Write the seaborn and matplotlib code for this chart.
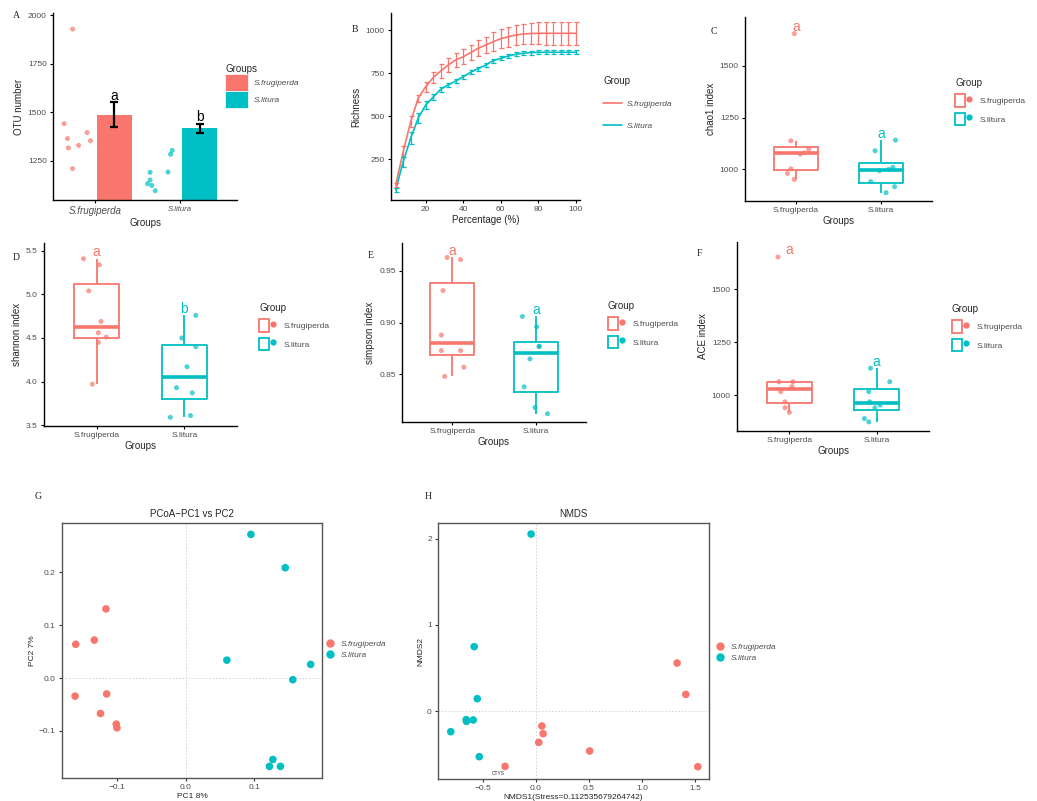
import matplotlib
matplotlib.use("Agg")
import matplotlib.pyplot as plt
from matplotlib.patches import Patch
from matplotlib.lines import Line2D
from matplotlib.legend_handler import HandlerTuple
from matplotlib.ticker import FormatStrFormatter, FuncFormatter
import pandas as pd
import seaborn as sns

W, H = 1037, 801
RED = "#F8766D"
CYAN = "#00BFC4"
GROUPS = ["S.frugiperda", "S.litura"]
PALETTE = dict(zip(GROUPS, [RED, CYAN]))

# A: OTU number
OTU_FRU = [1441, 1364, 1316, 1209, 1929, 1329, 1395, 1353]
OTU_LIT = [1131, 1190, 1150, 1122, 1095, 1191, 1283, 1303]
OTU_BAR = [1487, 1417]
OTU_ERR = [65, 23]
OTU_LETTERS = ["a", "b"]

# B: rarefaction
PCT = [4, 8, 12, 16, 20, 24, 28, 32, 36, 40, 44, 48, 52,
       56, 60, 64, 68, 72, 76, 80, 84, 88, 92, 96, 100]
RICH_FRU = [101, 294, 468, 604, 671, 724, 762, 797, 826, 845, 869, 894, 913,
            932, 950, 961, 971, 977, 980, 981, 981, 981, 981, 981, 981]
RICH_FRU_SD = [10, 31, 31, 21, 29, 34, 39, 39, 43, 43, 45, 46, 48,
               55, 55, 58, 58, 60, 61, 64, 66, 66, 66, 66, 66]
RICH_LIT = [72, 236, 372, 488, 565, 610, 656, 681, 704, 729, 755, 776, 797,
            822, 836, 849, 859, 865, 869, 871, 871, 871, 871, 871, 871]
RICH_LIT_SD = [10, 29, 34, 29, 23, 19, 15, 12, 12, 12, 12, 12, 12,
               12, 12, 12, 12, 12, 12, 12, 12, 12, 12, 12, 12]

# C-F: alpha diversity
CHAO_FRU = [1654, 1138, 1098, 1074, 1080, 1003, 981, 952]
CHAO_LIT = [1090, 1141, 941, 888, 917, 994, 1000, 1010]
SHAN_FRU = [5.41, 5.34, 5.04, 4.69, 4.56, 4.51, 4.45, 3.97]
SHAN_LIT = [4.50, 4.76, 4.40, 4.17, 3.93, 3.87, 3.59, 3.61]
SIMP_FRU = [0.963, 0.961, 0.931, 0.888, 0.873, 0.873, 0.857, 0.848]
SIMP_LIT = [0.906, 0.896, 0.877, 0.877, 0.865, 0.838, 0.818, 0.812]
ACE_FRU = [1653, 1063, 1063, 1040, 1016, 968, 940, 918]
ACE_LIT = [1127, 1063, 1016, 968, 953, 940, 889, 873]
CHAO_LETTERS = ["a", "a"]
SHAN_LETTERS = ["a", "b"]
SIMP_LETTERS = ["a", "a"]
ACE_LETTERS = ["a", "a"]

# G: PCoA
PC1_FRU = [-0.116, -0.133, -0.160, -0.161, -0.115, -0.124, -0.101, -0.100]
PC2_FRU = [0.131, 0.072, 0.064, -0.034, -0.030, -0.067, -0.087, -0.094]
PC1_LIT = [0.095, 0.145, 0.060, 0.182, 0.156, 0.127, 0.122, 0.138]
PC2_LIT = [0.272, 0.209, 0.034, 0.026, -0.003, -0.154, -0.167, -0.167]

# H: NMDS
NMDS1_FRU = [0.057, 0.069, 0.028, 0.506, -0.289, 1.328, 1.410, 1.523]
NMDS2_FRU = [-0.174, -0.263, -0.364, -0.464, -0.642, 0.557, 0.193, -0.646]
NMDS1_LIT = [-0.044, -0.579, -0.550, -0.654, -0.651, -0.588, -0.799, -0.531]
NMDS2_LIT = [2.054, 0.747, 0.143, -0.100, -0.120, -0.104, -0.240, -0.530]

# jitter offsets (layout only)
JIT_A_FRU = [-0.36, -0.32, -0.31, -0.26, -0.26, -0.19, -0.09, -0.05]
JIT_A_LIT = [-0.38, -0.35, -0.35, -0.33, -0.29, -0.14, -0.11, -0.09]
JIT_C = ([-0.02, -0.06, 0.15, 0.05, 0.10, -0.06, -0.10, -0.02],
         [-0.07, 0.17, -0.12, 0.06, 0.16, -0.02, 0.09, 0.14])
JIT_D = ([-0.15, 0.03, -0.09, 0.05, 0.02, 0.11, 0.02, -0.05],
         [-0.03, 0.13, 0.13, 0.03, -0.09, 0.09, -0.16, 0.07])
JIT_E = ([-0.06, 0.10, -0.11, -0.13, -0.13, 0.10, 0.14, -0.09],
         [-0.16, 0.01, 0.04, 0.04, -0.07, -0.14, -0.01, 0.14])
JIT_F = ([-0.13, -0.12, 0.04, 0.03, -0.10, -0.05, -0.05, 0.00],
         [-0.07, 0.15, -0.09, -0.08, 0.04, -0.02, -0.14, -0.09])

TICK_GREY = "#4D4D4D"

sns.set_style("ticks")
plt.rcParams["font.family"] = ["Liberation Sans", "DejaVu Sans"]

fig = plt.figure(figsize=(W / 100, H / 100), dpi=100)


def px_axes(l, t, r, b):
    return fig.add_axes([l / W, 1 - b / H, (r - l) / W, (b - t) / H])


def minus_fmt(fmt):
    return FuncFormatter(lambda v, p: (fmt % v).replace("-", "\u2212"))


def style_classic(ax):
    sns.despine(ax=ax)
    for side in ["left", "bottom"]:
        ax.spines[side].set_color("black")
        ax.spines[side].set_linewidth(1.0)
    ax.tick_params(direction="out", length=2.5, width=0.8, colors="black",
                   labelsize=6, labelcolor=TICK_GREY, pad=2)


def style_frame(ax):
    for side in ax.spines:
        ax.spines[side].set_visible(True)
        ax.spines[side].set_color("#555555")
        ax.spines[side].set_linewidth(1.0)
    ax.tick_params(direction="out", length=2.5, width=0.8, colors="#333333",
                   labelsize=6, labelcolor=TICK_GREY, pad=2)
    ax.axhline(0, color="#d0d0d0", lw=0.6, ls=(0, (2, 2)), zorder=0)
    ax.axvline(0, color="#d0d0d0", lw=0.6, ls=(0, (2, 2)), zorder=0)


def legend_at(ax, handles, labels, x, y, **kw):
    leg = ax.legend(handles, labels, loc="upper left",
                    bbox_to_anchor=(x / W, 1 - y / H),
                    bbox_transform=fig.transFigure, frameon=False,
                    borderaxespad=0, borderpad=0, **kw)
    return leg


def panel_tag(text, x, y):
    fig.text(x / W, 1 - y / H, text, family="Liberation Serif", fontsize=7,
             ha="left", va="center", color="#222222")


# ---------------- A ----------------
ax = px_axes(53, 13, 237, 200)
df_a = pd.DataFrame({"group": GROUPS, "otu": OTU_BAR})
sns.barplot(data=df_a, x="group", y="otu", hue="group", palette=PALETTE,
            width=0.41, saturation=1, errorbar=None, legend=False, ax=ax)
for p in ax.patches:
    p.set_x(p.get_x() + 0.23)
    p.set_edgecolor("none")
bar_x = [i + 0.23 for i in range(len(GROUPS))]
ax.errorbar(bar_x, OTU_BAR, yerr=OTU_ERR, fmt="none", ecolor="black",
            elinewidth=1.6, capsize=3.2, capthick=1.6, zorder=5)
pts_a = pd.DataFrame({
    "group": [GROUPS[0]] * len(OTU_FRU) + [GROUPS[1]] * len(OTU_LIT),
    "otu": OTU_FRU + OTU_LIT,
    "xpos": [j for j in JIT_A_FRU] + [1 + j for j in JIT_A_LIT],
})
sns.scatterplot(data=pts_a, x="xpos", y="otu", hue="group", palette=PALETTE,
                s=13, alpha=0.7, edgecolor="none", legend=False, ax=ax)
ylim = (1047, 2012)
for xb, yb, e, lab in zip(bar_x, OTU_BAR, OTU_ERR, OTU_LETTERS):
    ax.text(xb, yb + e + 0.035 * (ylim[1] - ylim[0]), lab, ha="center",
            va="center", fontsize=10, color="black")
ax.set_xlim(-0.49, 1.67)
ax.set_ylim(*ylim)
ax.set_yticks([1250, 1500, 1750, 2000])
ax.set_xticks([0, 1])
ax.set_xticklabels(GROUPS)
style_classic(ax)
for t, fs in zip(ax.get_xticklabels(), [7, 5.6]):
    t.set_fontstyle("italic")
    t.set_fontsize(fs)
ax.set_xlabel("Groups", fontsize=7, labelpad=1)
ax.set_ylabel("OTU number", fontsize=7, labelpad=3)
h_a = [Patch(facecolor=c, edgecolor="white", lw=0.5) for c in [RED, CYAN]]
leg = legend_at(ax, h_a, GROUPS, 225, 64, title="Groups", fontsize=6,
                title_fontsize=7, handlelength=2.8, handleheight=2.75,
                labelspacing=0, handletextpad=0.7, alignment="left")
for t in leg.get_texts():
    t.set_fontstyle("italic")
    t.set_color(TICK_GREY)
panel_tag("A", 13, 15)

# ---------------- B ----------------
ax = px_axes(391, 13, 580, 200)
df_b = pd.DataFrame({
    "pct": PCT + PCT,
    "rich": RICH_FRU + RICH_LIT,
    "sd": RICH_FRU_SD + RICH_LIT_SD,
    "group": [GROUPS[0]] * len(PCT) + [GROUPS[1]] * len(PCT),
})
sns.lineplot(data=df_b, x="pct", y="rich", hue="group", palette=PALETTE,
             errorbar=None, lw=1.2, legend=False, ax=ax)
for g, sub in df_b.groupby("group"):
    ax.errorbar(sub["pct"], sub["rich"], yerr=sub["sd"], fmt="none",
                ecolor=PALETTE[g], elinewidth=0.9, capsize=1.8, capthick=0.9)
ax.set_xlim(1.5, 102.3)
ax.set_ylim(13, 1099)
ax.set_xticks([20, 40, 60, 80, 100])
ax.set_yticks([250, 500, 750, 1000])
style_classic(ax)
ax.set_xlabel("Percentage (%)", fontsize=7, labelpad=1)
ax.set_ylabel("Richness", fontsize=7, labelpad=3)
h_b = [Line2D([], [], color=c, lw=1.2) for c in [RED, CYAN]]
leg = legend_at(ax, h_b, GROUPS, 603, 76, title="Group", fontsize=6,
                title_fontsize=7, handlelength=2.3, labelspacing=1.75,
                handletextpad=0.6, alignment="left")
for t in leg.get_texts():
    t.set_fontstyle("italic")
    t.set_color(TICK_GREY)
leg._legend_box.sep = 10
panel_tag("B", 352, 30)


# ---------------- C-F ----------------
def box_panel(box, fru, lit, jit, letters, ylabel, ylim, yticks, fmt,
              legend_xy, tag, tag_xy):
    ax = px_axes(*box)
    df = pd.DataFrame({
        "group": [GROUPS[0]] * len(fru) + [GROUPS[1]] * len(lit),
        "value": fru + lit,
        "xpos": list(jit[0]) + [1 + j for j in jit[1]],
    })
    sns.boxplot(data=df, x="group", y="value", hue="group", palette=PALETTE,
                fill=False, width=0.52, showcaps=False, showfliers=False,
                linewidth=1.3, medianprops={"linewidth": 2.6},
                legend=False, ax=ax)
    sns.scatterplot(data=df, x="xpos", y="value", hue="group",
                    palette=PALETTE, s=13, alpha=0.7, edgecolor="none",
                    legend=False, ax=ax)
    for i, (g, lab) in enumerate(zip(GROUPS, letters)):
        top = df.loc[df["group"] == g, "value"].max()
        ax.text(i, top + 0.035 * (ylim[1] - ylim[0]), lab, ha="center",
                va="center", fontsize=10, color=PALETTE[g])
    ax.set_xlim(-0.6, 1.6)
    ax.set_ylim(*ylim)
    ax.set_yticks(yticks)
    ax.yaxis.set_major_formatter(FormatStrFormatter(fmt))
    ax.set_xticks([0, 1])
    ax.set_xticklabels(GROUPS)
    style_classic(ax)
    ax.set_xlabel("Groups", fontsize=7, labelpad=1)
    ax.set_ylabel(ylabel, fontsize=7, labelpad=3)
    handles = [(Patch(facecolor="white", edgecolor=c, lw=1.3),
                Line2D([], [], color=c, marker="o", ls="", ms=3.5))
               for c in [RED, CYAN]]
    leg = legend_at(ax, handles, GROUPS, legend_xy[0], legend_xy[1],
                    title="Group", fontsize=6, title_fontsize=7,
                    handlelength=2.3, handleheight=1.9, labelspacing=0.75,
                    handletextpad=0.6, alignment="left",
                    handler_map={tuple: HandlerTuple(ndivide=None, pad=0)})
    for t in leg.get_texts():
        t.set_color(TICK_GREY)
    panel_tag(tag, *tag_xy)
    return ax


box_panel((745, 17, 932, 201), CHAO_FRU, CHAO_LIT, JIT_C, CHAO_LETTERS,
          "chao1 index", (848, 1734), [1000, 1250, 1500], "%d",
          (955, 78), "C", (711, 32))
box_panel((44, 243, 237, 426), SHAN_FRU, SHAN_LIT, JIT_D, SHAN_LETTERS,
          "shannon index", (3.49, 5.59), [3.5, 4.0, 4.5, 5.0, 5.5], "%.1f",
          (259, 303), "D", (13, 257))
box_panel((402, 243, 586, 422), SIMP_FRU, SIMP_LIT, JIT_E, SIMP_LETTERS,
          "simpson index", (0.804, 0.977), [0.85, 0.90, 0.95], "%.2f",
          (608, 301), "E", (368, 256))
box_panel((737, 242, 929, 431), ACE_FRU, ACE_LIT, JIT_F, ACE_LETTERS,
          "ACE index", (830, 1724), [1000, 1250, 1500], "%d",
          (952, 304), "F", (697, 253))


# ---------------- G / H ----------------
def ord_panel(box, xf, yf, xl, yl, title, xlabel, ylabel, xlim, ylim,
              xticks, yticks, xfmt, yfmt, legend_xy, tag, tag_xy):
    ax = px_axes(*box)
    df = pd.DataFrame({
        "x": xf + xl,
        "y": yf + yl,
        "group": [GROUPS[0]] * len(xf) + [GROUPS[1]] * len(xl),
    })
    sns.scatterplot(data=df, x="x", y="y", hue="group", palette=PALETTE,
                    s=30, edgecolor="none", legend=False, ax=ax, zorder=3)
    style_frame(ax)
    ax.set_xlim(*xlim)
    ax.set_ylim(*ylim)
    ax.set_xticks(xticks)
    ax.set_yticks(yticks)
    ax.xaxis.set_major_formatter(minus_fmt(xfmt))
    ax.yaxis.set_major_formatter(minus_fmt(yfmt))
    ax.set_title(title, fontsize=7, pad=4)
    ax.set_xlabel(xlabel, fontsize=6, labelpad=1)
    ax.set_ylabel(ylabel, fontsize=6, labelpad=2)
    handles = [Line2D([], [], color=c, marker="o", ls="", ms=5)
               for c in [RED, CYAN]]
    leg = legend_at(ax, handles, GROUPS, legend_xy[0], legend_xy[1],
                    fontsize=6, handlelength=1.0, labelspacing=0.35,
                    handletextpad=0.8)
    for t in leg.get_texts():
        t.set_fontstyle("italic")
        t.set_color(TICK_GREY)
    panel_tag(tag, *tag_xy)
    return ax


ord_panel((62, 523, 322, 778), PC1_FRU, PC2_FRU, PC1_LIT, PC2_LIT,
          "PCoA\u2212PC1 vs PC2", "PC1 8%", "PC2 7%",
          (-0.180, 0.1985), (-0.189, 0.2936), [-0.1, 0.0, 0.1],
          [-0.1, 0.0, 0.1, 0.2], "%.1f", "%.1f", (326, 640), "G", (35, 497))
axh = ord_panel((438, 523, 709, 779), NMDS1_FRU, NMDS2_FRU, NMDS1_LIT,
                NMDS2_LIT, "NMDS", "NMDS1(Stress=0.112535679264742)", "NMDS2",
                (-0.919, 1.628), (-0.789, 2.182), [-0.5, 0.0, 0.5, 1.0, 1.5],
                [0, 1, 2], "%.1f", "%d", (716, 643), "H", (425, 497))
axh.text(-0.356, -0.72, "CTYS", fontsize=3.5, color="#333333",
         ha="center", va="center")

fig.savefig("out.png", dpi=100)
